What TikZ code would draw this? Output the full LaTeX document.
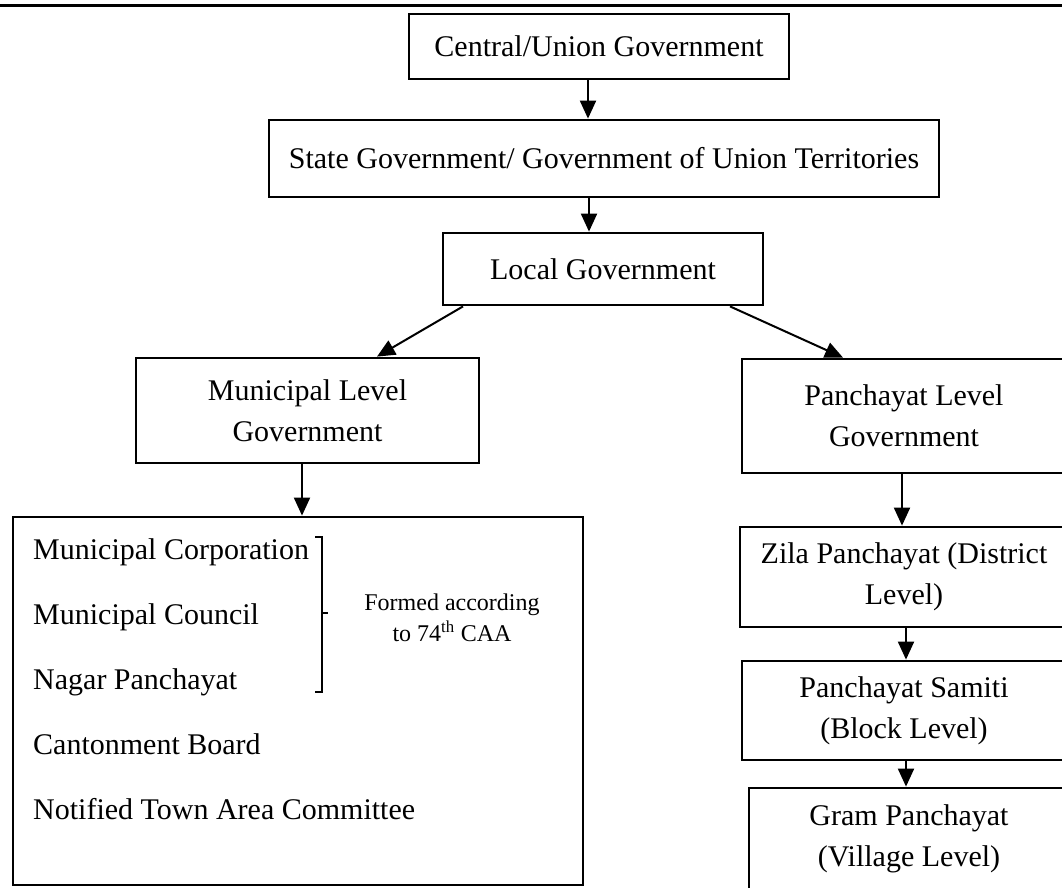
\documentclass[tikz,border=0pt]{standalone}
\usepackage{fontspec}
\setmainfont{Liberation Serif}
\usetikzlibrary{arrows.meta}

\begin{document}
\begin{tikzpicture}[->,>={Triangle[length=18pt,width=16pt]},x=1pt,y=-1pt]
	\tikzset{govbox/.style = {shape=rectangle, draw, line width=2.8pt, align=center, inner sep=0pt, font=\fontsize{30}{41}\selectfont}}
	\tikzset{listitem/.style = {anchor=base west, inner sep=0pt, font=\fontsize{30}{36}\selectfont}}
	\tikzset{link/.style = {line width=2pt}}
	\path[use as bounding box] (0,0) rectangle (1062,888);
	\clip (0,0) rectangle (1062,888);
	\draw[-, line width=3pt] (0,6) -- (1062,6);
	
	\node[govbox, minimum width=380pt, minimum height=65pt] (CENTRAL) at (599,46.5) {Central/Union Government};
	\node[govbox, minimum width=670pt, minimum height=77pt] (STATE) at (604,158.5) {State Government/ Government of Union Territories};
	\node[govbox, minimum width=320pt, minimum height=72pt] (LOCAL) at (603,269) {Local Government};
	\node[govbox, minimum width=343pt, minimum height=105pt] (MUNI) at (307.5,410.5) {Municipal Level\\Government};
	\node[govbox, minimum width=324pt, minimum height=114pt] (PLEVEL) at (904,416) {Panchayat Level\\Government};
	\node[govbox, minimum width=570pt, minimum height=368pt] (TYPES) at (298,701) {};
	\node[govbox, minimum width=328pt, minimum height=100pt] (ZILA) at (904,577) {Zila Panchayat (District\\Level)};
	\node[govbox, minimum width=324pt, minimum height=99pt] (SAMITI) at (904,710.5) {Panchayat Samiti\\(Block Level)};
	\node[govbox, minimum width=320pt, minimum height=102pt] (GRAM) at (909,839) {Gram Panchayat\\(Village Level)};
	
	% bodies under the municipal level
	\node[listitem] (MCORP) at (33,559) {Municipal Corporation};
	\node[listitem] (MCOUNCIL) at (33,624) {Municipal Council};
	\node[listitem] (NAGAR) at (33,689) {Nagar Panchayat};
	\node[listitem] (CANTON) at (33,754) {Cantonment Board};
	\node[listitem] (NOTIFIED) at (33,819) {Notified Town Area Committee};
	
	\draw[-, link] (315,537) -- (322,537) -- (322,692) -- (315,692);
	\draw[-, link] (322,613) -- (328,613);
	\node[inner sep=0pt, align=center, font=\fontsize{24}{31}\selectfont] (CAA) at (452,618) {Formed according\\to 74\textsuperscript{th} CAA};
	
	\draw[link] ([xshift=-11pt]CENTRAL.south) -- ([xshift=-16pt]STATE.north);
	\draw[link] ([xshift=-15pt]STATE.south) -- ([xshift=-14pt]LOCAL.north);
	\draw[link] ([xshift=-140pt]LOCAL.south) -- ([xshift=69.5pt]MUNI.north);
	\draw[link] ([xshift=127pt]LOCAL.south) -- ([xshift=-61pt]PLEVEL.north);
	\draw[link] ([xshift=-5.5pt]MUNI.south) -- ([xshift=4pt]TYPES.north);
	\draw[link] ([xshift=-2pt]PLEVEL.south) -- ([xshift=-2pt]ZILA.north);
	\draw[link] ([xshift=2pt]ZILA.south) -- ([xshift=2pt]SAMITI.north);
	\draw[link] ([xshift=2pt]SAMITI.south) -- ([xshift=-3pt]GRAM.north);
\end{tikzpicture}
\end{document}
